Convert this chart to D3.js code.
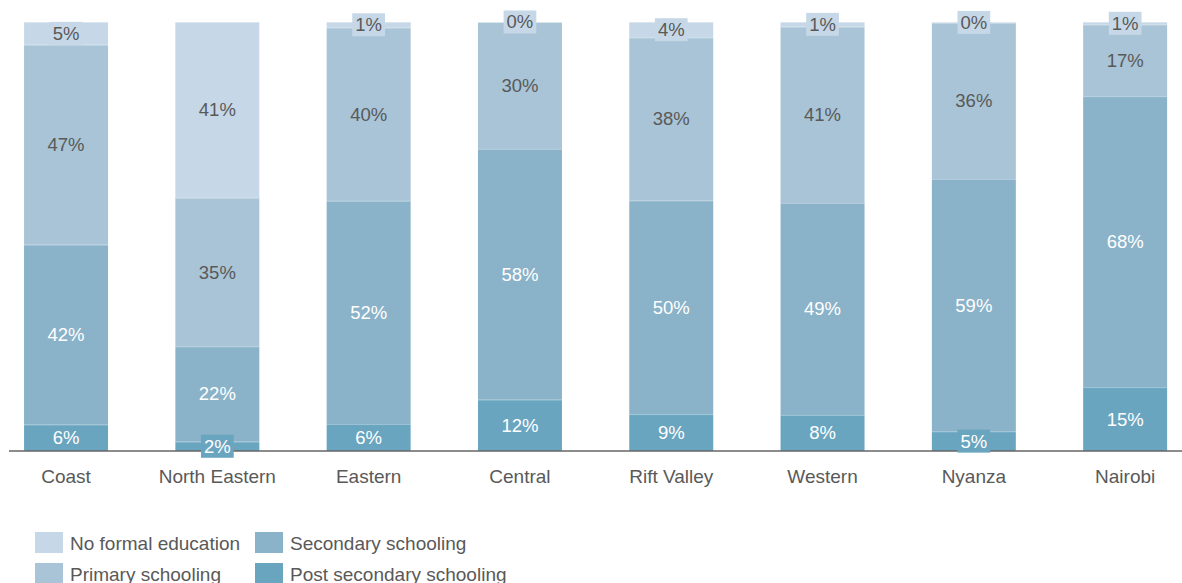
<!DOCTYPE html>
<html>
<head>
<meta charset="utf-8">
<script src="https://cdn.jsdelivr.net/npm/d3@7"></script>
<style>
  body { margin: 0; background: #fff; }
  text { font-family: "Liberation Sans", Arial, sans-serif; }
</style>
</head>
<body>
<div id="chart"></div>
<script>
// regions and shares (%) per schooling level
const regions = ["Coast", "North Eastern", "Eastern", "Central", "Rift Valley", "Western", "Nyanza", "Nairobi"];
const levels = ["No formal education", "Primary schooling", "Secondary schooling", "Post secondary schooling"];
const noFormal = [5.3, 41.0, 1.3, 0.0, 3.6, 1.1, 0.2, 0.6];
const primary = [46.6, 34.6, 40.4, 29.6, 38.0, 41.1, 36.4, 16.7];
const secondary = [41.9, 22.2, 52.0, 58.4, 49.8, 49.4, 58.8, 67.8];
const postSecondary = [6.2, 2.2, 6.3, 12.0, 8.6, 8.4, 4.6, 14.9];

const colors = ["#c6d8e7", "#a8c4d6", "#8ab2c8", "#6aa5c0"];
const labelColors = ["#595959", "#595959", "#ffffff", "#ffffff"];

const width = 1182, height = 583;
const margin = { top: 22, bottom: 132 };
const plotBottom = height - margin.bottom;

const rows = regions.map((r, i) => ({
    region: r,
    "No formal education": noFormal[i],
    "Primary schooling": primary[i],
    "Secondary schooling": secondary[i],
    "Post secondary schooling": postSecondary[i]
}));

// stack bottom-up: post secondary first
const stackOrder = levels.slice().reverse();
const series = d3.stack()
    .keys(stackOrder)
    .offset(d3.stackOffsetExpand)(rows);

const svg = d3.select("#chart").append("svg")
    .attr("width", width)
    .attr("height", height);

const x = d3.scaleBand()
    .domain(regions)
    .range([-9.6, 1200.8])
    .paddingInner(0.445)
    .paddingOuter(0.2225);

const y = d3.scaleLinear()
    .domain([0, 1])
    .range([plotBottom, margin.top]);

const groups = svg.append("g").selectAll("g")
    .data(series)
    .join("g")
    .attr("fill", d => colors[levels.indexOf(d.key)]);

groups.selectAll("rect")
    .data(d => d)
    .join("rect")
    .attr("x", d => x(d.data.region))
    .attr("y", d => y(d[1]))
    .attr("width", x.bandwidth())
    .attr("height", d => y(d[0]) - y(d[1]));

// thin light separators between segments
groups.selectAll("line")
    .data(d => d)
    .join("line")
    .attr("x1", d => x(d.data.region))
    .attr("x2", d => x(d.data.region) + x.bandwidth())
    .attr("y1", d => y(d[1]) + 0.5)
    .attr("y2", d => y(d[1]) + 0.5)
    .attr("stroke", "#ffffff")
    .attr("stroke-opacity", 0.35);

// axis baseline
svg.append("line")
    .attr("x1", 9).attr("x2", width)
    .attr("y1", plotBottom).attr("y2", plotBottom)
    .attr("stroke", "#666")
    .attr("stroke-width", 1.5);

// value labels with background box in segment colour
series.forEach(s => {
    const li = levels.indexOf(s.key);
    s.forEach((d, i) => {
        const cx = x(d.data.region) + x.bandwidth() / 2;
        const cy = (y(d[0]) + y(d[1])) / 2;
        const txt = Math.round(rows[i][s.key]) + "%";
        const g = svg.append("g");
        const t = g.append("text")
            .attr("x", cx)
            .attr("y", cy)
            .attr("dy", "0.35em")
            .attr("text-anchor", "middle")
            .attr("font-size", 18.5)
            .attr("fill", labelColors[li])
            .text(txt);
        const bb = t.node().getBBox();
        g.insert("rect", "text")
            .attr("x", bb.x - 3)
            .attr("y", cy - 11.5)
            .attr("width", bb.width + 6)
            .attr("height", 23)
            .attr("fill", colors[li]);
    });
});

// category labels
svg.append("g").selectAll("text")
    .data(regions)
    .join("text")
    .attr("x", d => x(d) + x.bandwidth() / 2)
    .attr("y", plotBottom + 32)
    .attr("text-anchor", "middle")
    .attr("font-size", 19)
    .attr("fill", "#595959")
    .text(d => d);

// legend
const legend = svg.append("g");
levels.forEach((lv, i) => {
    const col = Math.floor(i / 2), row = i % 2;
    const lx = 35 + col * 220, ly = 532 + row * 31;
    legend.append("rect")
        .attr("x", lx).attr("y", ly)
        .attr("width", 28).attr("height", 21)
        .attr("fill", colors[i]);
    legend.append("text")
        .attr("x", lx + 35)
        .attr("y", ly + 11)
        .attr("dy", "0.35em")
        .attr("font-size", 19)
        .attr("fill", "#595959")
        .text(lv);
});
</script>
</body>
</html>
